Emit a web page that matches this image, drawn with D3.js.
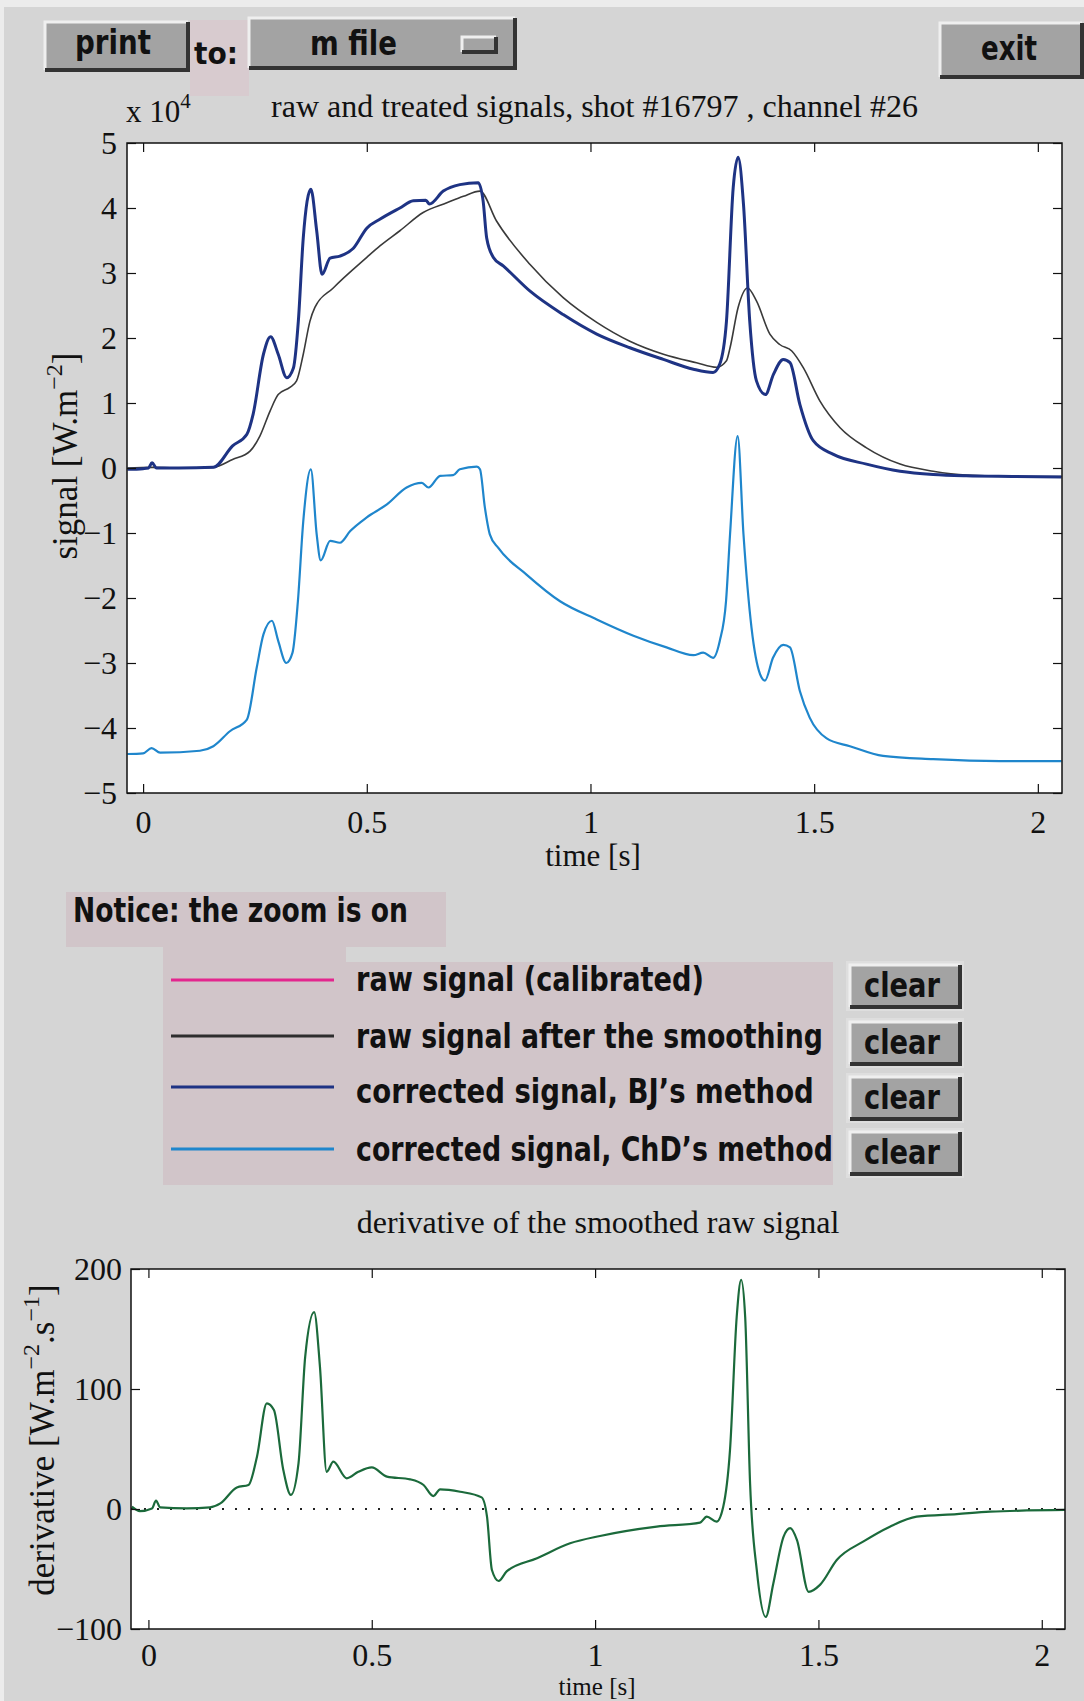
<!DOCTYPE html>
<html>
<head>
<meta charset="utf-8">
<script src="https://cdn.jsdelivr.net/npm/d3@7"></script>
<style>
  body { margin: 0; background: #d5d5d5; }
  svg { display: block; }
  .tick text { font-family: "Liberation Serif", "Times New Roman", serif; font-size: 32px; fill: #111; }
  .tick line { stroke: #111; stroke-width: 1.2; }
  .serif { font-family: "Liberation Serif", "Times New Roman", serif; fill: #111; }
  .gui { font-family: "Liberation Sans Narrow", "Arial Narrow", "DejaVu Sans Condensed", sans-serif; font-weight: bold; fill: #111; }
</style>
</head>
<body>
<svg id="chart"></svg>
<script>
/* ---- data: [time (s), value] ---- */

// raw signal after smoothing (x 10^4 W.m-2)
var smoothedSignal = [[-0.035,0],[0.02,0.01],[0.10,0],[0.157,0.01],[0.20,0.13],[0.239,0.26],[0.261,0.49],
  [0.284,0.88],[0.302,1.13],[0.328,1.24],[0.343,1.34],[0.358,1.75],[0.373,2.26],[0.384,2.47],[0.425,2.77],
  [0.50,3.24],[0.53,3.42],[0.574,3.65],[0.626,3.93],[0.679,4.08],[0.716,4.18],[0.753,4.26],[0.79,3.80],
  [0.865,3.13],[0.939,2.62],[1.014,2.24],[1.088,1.95],[1.163,1.75],[1.237,1.62],[1.282,1.55],[1.304,1.65],
  [1.312,1.85],[1.330,2.47],[1.351,2.77],[1.371,2.57],[1.401,2.06],[1.423,1.90],[1.450,1.80],[1.476,1.54],
  [1.513,1.03],[1.558,0.62],[1.617,0.31],[1.692,0.06],[1.766,-0.05],[1.84,-0.11],[1.95,-0.13],[2.053,-0.13]];

// corrected signal, BJ's method
var bjSignal = [[-0.035,-0.02],[0.0,-0.01],[0.012,0.0],[0.02,0.08],[0.03,0.0],[0.08,0.0],[0.157,0.01],
  [0.20,0.34],[0.232,0.52],[0.246,0.83],[0.269,1.75],[0.285,2.02],[0.302,1.75],[0.321,1.39],[0.336,1.54],
  [0.347,2.26],[0.358,3.54],[0.375,4.29],[0.388,3.65],[0.40,2.98],[0.418,3.23],[0.44,3.26],[0.47,3.38],
  [0.50,3.69],[0.53,3.83],[0.574,4.0],[0.604,4.11],[0.632,4.12],[0.64,4.06],[0.671,4.26],[0.708,4.36],
  [0.749,4.39],[0.76,4.11],[0.768,3.54],[0.783,3.24],[0.805,3.11],[0.865,2.72],[0.939,2.36],[1.014,2.06],
  [1.088,1.85],[1.163,1.67],[1.23,1.52],[1.274,1.47],[1.289,1.60],[1.304,2.26],[1.319,4.31],[1.330,4.78],
  [1.342,4.06],[1.356,2.26],[1.371,1.34],[1.391,1.13],[1.409,1.44],[1.431,1.67],[1.446,1.62],[1.468,0.98],
  [1.498,0.42],[1.543,0.21],[1.617,0.06],[1.692,-0.05],[1.766,-0.10],[1.84,-0.12],[1.95,-0.13],[2.053,-0.14]];

// corrected signal, ChD's method
var chdSignal = [[-0.035,-4.40],[0.0,-4.39],[0.019,-4.31],[0.038,-4.38],[0.127,-4.35],[0.157,-4.28],
  [0.194,-4.05],[0.232,-3.87],[0.254,-3.07],[0.269,-2.56],[0.288,-2.35],[0.302,-2.66],[0.32,-3.0],
  [0.334,-2.84],[0.346,-2.05],[0.358,-0.82],[0.375,-0.02],[0.388,-1.02],[0.397,-1.42],[0.418,-1.12],
  [0.44,-1.15],[0.463,-0.97],[0.50,-0.76],[0.545,-0.56],[0.589,-0.30],[0.623,-0.23],[0.638,-0.30],
  [0.664,-0.12],[0.693,-0.11],[0.708,-0.02],[0.746,0.02],[0.753,-0.02],[0.764,-0.61],[0.775,-1.02],
  [0.794,-1.23],[0.857,-1.64],[0.932,-2.05],[1.014,-2.33],[1.096,-2.58],[1.17,-2.76],[1.23,-2.88],
  [1.252,-2.84],[1.274,-2.92],[1.289,-2.66],[1.303,-2.05],[1.312,-1.02],[1.329,0.49],[1.342,-1.02],
  [1.36,-2.46],[1.379,-3.17],[1.39,-3.27],[1.408,-2.92],[1.431,-2.72],[1.446,-2.76],[1.468,-3.43],
  [1.49,-3.84],[1.528,-4.16],[1.58,-4.28],[1.654,-4.43],[1.766,-4.48],[1.915,-4.51],[2.053,-4.51]];

// derivative of the smoothed raw signal
var derivative = [[-0.037,2],[-0.019,-1.7],[0.008,0.5],[0.017,7],[0.026,1.4],[0.086,0.5],[0.138,1.4],
  [0.161,4.7],[0.198,18],[0.224,20],[0.243,43.6],[0.265,88],[0.281,82.5],[0.302,32.5],[0.319,11.7],
  [0.336,38],[0.351,127],[0.371,164],[0.384,118.6],[0.399,31],[0.414,39.4],[0.444,25.6],[0.470,31],
  [0.5,34.7],[0.534,27],[0.586,24.7],[0.616,20],[0.638,10.8],[0.653,16.4],[0.698,14.4],[0.746,9.7],
  [0.758,-6.4],[0.769,-50.8],[0.784,-60],[0.802,-52],[0.87,-41],[0.944,-28.6],[1.011,-22.5],[1.138,-14.7],
  [1.235,-11.4],[1.25,-6.4],[1.272,-10.6],[1.287,2],[1.302,49],[1.317,160],[1.327,191],[1.336,160],
  [1.347,21],[1.362,-51],[1.382,-90],[1.399,-62],[1.422,-23],[1.437,-16],[1.452,-26],[1.478,-69],
  [1.504,-63],[1.541,-42.5],[1.601,-27],[1.66,-14.7],[1.72,-6.4],[1.81,-4.2],[1.884,-2.2],[2.052,-0.8]];

var timeTicks = [0, 0.5, 1, 1.5, 2];
var signalTicks = [-5, -4, -3, -2, -1, 0, 1, 2, 3, 4, 5];
var derivTicks = [-100, 0, 100, 200];

var legendLabels = ["raw signal (calibrated)", "raw signal after the smoothing",
                    "corrected signal, BJ\u2019s method", "corrected signal, ChD\u2019s method"];
var legendColors = ["#e3268e", "#2e2e2e", "#1e3384", "#1f86cc"];

/* ---- page ---- */
var W = 1084, H = 1701;
var svg = d3.select("#chart").attr("width", W).attr("height", H);

svg.append("rect").attr("width", W).attr("height", H).attr("fill", "#ececec");
svg.append("rect").attr("x", 4).attr("y", 7).attr("width", W - 4).attr("height", H - 7).attr("fill", "#d5d5d5");

/* ---- GUI widgets ---- */
// bold narrow label, squeezed horizontally to width w
function guiText(x, y, s, w, size) {
  var t = svg.append("text").attr("class", "gui")
    .attr("font-size", size || 31)
    .text(s);
  var len = t.node().getComputedTextLength();
  t.attr("transform", "translate(" + x + "," + y + ") scale(" + (w / len) + ",1)");
  return t;
}

function button(x, y, w, h) {
  svg.append("rect").attr("x", x).attr("y", y).attr("width", w).attr("height", h).attr("fill", "#a3a3a3");
  svg.append("path").attr("d", "M" + x + "," + (y + h) + "V" + y + "H" + (x + w))
    .attr("fill", "none").attr("stroke", "#efefef").attr("stroke-width", 3);
  svg.append("path").attr("d", "M" + (x + w) + "," + y + "V" + (y + h) + "H" + x)
    .attr("fill", "none").attr("stroke", "#333").attr("stroke-width", 4);
}

// pinkish panels
svg.append("rect").attr("x", 190).attr("y", 20).attr("width", 59).attr("height", 76).attr("fill", "#d8cbcf");
svg.append("path")
  .attr("d", "M66,892H446V947H346V962H833V1185H163V947H66Z")
  .attr("fill", "#d1c5c9");

button(45, 22, 143, 48);
guiText(75, 54, "print", 76, 33);
guiText(194, 64, "to:", 44, 31);
button(249, 18, 266, 50);
guiText(310, 55, "m file", 87, 33);
button(462, 37, 34, 15);
button(940, 23, 142, 54);
guiText(981, 60, "exit", 56, 33);

guiText(73, 922, "Notice: the zoom is on", 335, 33);

var rowLine = [980, 1036, 1087, 1149];
var rowText = [991, 1048, 1103, 1161];
var rowWidth = [348, 467, 458, 477];
var rowButton = [965, 1022, 1077, 1132];

legendLabels.forEach(function (lab, i) {
  svg.append("line").attr("x1", 171).attr("x2", 334).attr("y1", rowLine[i]).attr("y2", rowLine[i])
    .attr("stroke", legendColors[i]).attr("stroke-width", 3.2);
  guiText(356, rowText[i], lab, rowWidth[i], 34);
  svg.append("rect").attr("x", 846).attr("y", rowButton[i] - 4).attr("width", 118).attr("height", 50)
    .attr("fill", "#dedede");
  button(850, rowButton[i], 110, 42);
  guiText(864, rowButton[i] + 32, "clear", 76, 33);
});

/* ---- plotting helpers ---- */
function plotBox(x, y, xt, yt, lpad, bpad) {
  var x0 = x.range()[0], x1 = x.range()[1];
  var yb = y.range()[0], yt0 = y.range()[1];
  svg.append("rect").attr("x", x0).attr("y", yt0).attr("width", x1 - x0).attr("height", yb - yt0)
    .attr("fill", "#fff");

  var id = "clip" + Math.round(yb);
  svg.append("clipPath").attr("id", id).append("rect")
    .attr("x", x0).attr("y", yt0).attr("width", x1 - x0).attr("height", yb - yt0);

  var g = svg.append("g").attr("clip-path", "url(#" + id + ")");

  function axes() {
    var fmt = d3.format("");
    svg.append("g").attr("transform", "translate(0," + yb + ")")
      .call(d3.axisBottom(x).tickValues(xt).tickSize(-9).tickSizeOuter(0).tickPadding(bpad).tickFormat(fmt))
      .call(function (a) { a.select(".domain").remove(); });
    svg.append("g").attr("transform", "translate(0," + yt0 + ")")
      .call(d3.axisTop(x).tickValues(xt).tickSize(-9).tickSizeOuter(0).tickFormat(""))
      .call(function (a) { a.select(".domain").remove(); });
    svg.append("g").attr("transform", "translate(" + x0 + ",0)")
      .call(d3.axisLeft(y).tickValues(yt).tickSize(-9).tickSizeOuter(0).tickPadding(lpad).tickFormat(fmt))
      .call(function (a) { a.select(".domain").remove(); });
    svg.append("g").attr("transform", "translate(" + x1 + ",0)")
      .call(d3.axisRight(y).tickValues(yt).tickSize(-9).tickSizeOuter(0).tickFormat(""))
      .call(function (a) { a.select(".domain").remove(); });
    svg.append("rect").attr("x", x0).attr("y", yt0).attr("width", x1 - x0).attr("height", yb - yt0)
      .attr("fill", "none").attr("stroke", "#111").attr("stroke-width", 1.5);
  }
  return { g: g, axes: axes };
}

function drawSeries(g, data, x, y, color, width) {
  var line = d3.line()
    .x(function (d) { return x(d[0]); })
    .y(function (d) { return y(d[1]); })
    .curve(d3.curveMonotoneX);
  g.append("path").datum(data)
    .attr("d", line)
    .attr("fill", "none")
    .attr("stroke", color)
    .attr("stroke-width", width)
    .attr("stroke-linejoin", "round");
}

/* ---- top plot: raw and treated signals ---- */
var xTop = d3.scaleLinear().domain([-0.036, 2.054]).range([127, 1062]);
var yTop = d3.scaleLinear().domain([-5, 5]).range([793, 143]);
var sigPlot = plotBox(xTop, yTop, timeTicks, signalTicks, 10, 17);

drawSeries(sigPlot.g, smoothedSignal, xTop, yTop, "#3a3a3a", 1.6);
drawSeries(sigPlot.g, bjSignal, xTop, yTop, legendColors[2], 3);
drawSeries(sigPlot.g, chdSignal, xTop, yTop, legendColors[3], 2.2);
sigPlot.axes();

svg.append("text").attr("class", "serif").attr("font-size", 32)
  .attr("x", 594.5).attr("y", 117).attr("text-anchor", "middle")
  .text("raw and treated signals, shot #16797 , channel #26");

var expo = svg.append("text").attr("class", "serif").attr("font-size", 31).attr("x", 126).attr("y", 122);
expo.append("tspan").text("x 10");
expo.append("tspan").attr("font-size", 21).attr("dy", -14).text("4");

svg.append("text").attr("class", "serif").attr("font-size", 31)
  .attr("x", 593).attr("y", 866).attr("text-anchor", "middle").text("time [s]");

var yl1 = svg.append("text").attr("class", "serif").attr("font-size", 35)
  .attr("text-anchor", "middle").attr("transform", "translate(77,456) rotate(-90)");
yl1.append("tspan").text("signal [W.m");
yl1.append("tspan").attr("font-size", 24).attr("dy", -15).text("\u22122");
yl1.append("tspan").attr("dy", 15).text("]");

/* ---- bottom plot: derivative ---- */
var xBot = d3.scaleLinear().domain([-0.039, 2.052]).range([131, 1065]);
var yBot = d3.scaleLinear().domain([-100, 200]).range([1629, 1269]);
var derPlot = plotBox(xBot, yBot, timeTicks, derivTicks, 9, 14);

derPlot.g.append("line")
  .attr("x1", xBot(xBot.domain()[0])).attr("x2", xBot(xBot.domain()[1]))
  .attr("y1", yBot(0)).attr("y2", yBot(0))
  .attr("stroke", "#222").attr("stroke-width", 2.2).attr("stroke-dasharray", "2,11");
drawSeries(derPlot.g, derivative, xBot, yBot, "#1b6a3b", 2.2);
derPlot.axes();

svg.append("text").attr("class", "serif").attr("font-size", 32)
  .attr("x", 598).attr("y", 1233).attr("text-anchor", "middle")
  .text("derivative of the smoothed raw signal");

// the page ends right under this label
svg.append("text").attr("class", "serif").attr("font-size", 25)
  .attr("x", 597).attr("y", 1695).attr("text-anchor", "middle").text("time [s]");

var yl2 = svg.append("text").attr("class", "serif").attr("font-size", 35)
  .attr("text-anchor", "middle").attr("transform", "translate(54,1440) rotate(-90)");
yl2.append("tspan").text("derivative [W.m");
yl2.append("tspan").attr("font-size", 24).attr("dy", -15).text("\u22122");
yl2.append("tspan").attr("dy", 15).text(".s");
yl2.append("tspan").attr("font-size", 24).attr("dy", -15).text("\u22121");
yl2.append("tspan").attr("dy", 15).text("]");
</script>
</body>
</html>
